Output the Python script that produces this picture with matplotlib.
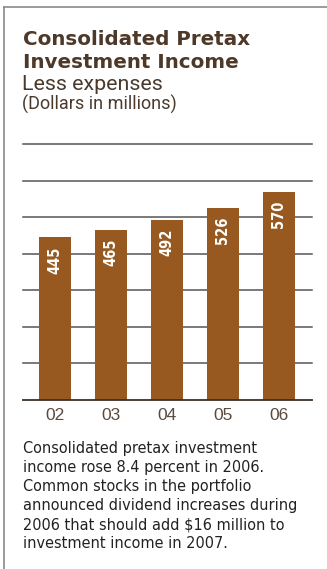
import os
import matplotlib
matplotlib.use('Agg')
import matplotlib.pyplot as plt
from matplotlib.lines import Line2D
from matplotlib import font_manager

# chart data
years = ['02', '03', '04', '05', '06']
income = [445, 465, 492, 526, 570]

title_lines = ['Consolidated Pretax', 'Investment Income']
subtitle = 'Less expenses'
units = '(Dollars in millions)'
note_lines = ['Consolidated pretax investment',
              'income rose 8.4 percent in 2006.',
              'Common stocks in the portfolio',
              'announced dividend increases during',
              '2006 that should add $16 million to',
              'investment income in 2007.']

W, H = 327, 569
bar_color = '#97591f'
brown_text = '#4e3928'


def find_narrow(bold):
    # look for an installed condensed sans face, fall back to DejaVu Sans
    prefs = ['LiberationSansNarrow', 'NotoSans-Condensed', 'DejaVuSansCondensed',
             'RobotoCondensed', 'Roboto_Condensed', 'OpenSans_Condensed',
             'Narrow', 'Condensed']
    skip = ['Italic', 'Oblique', 'Serif', 'Mono', 'Extra', 'Semi', 'Light',
            'Medium', 'Black', 'Thin', 'Ultra']
    files = [f.fname for f in font_manager.fontManager.ttflist]
    for p in prefs:
        for fn in files:
            base = os.path.basename(fn)
            if p not in base or any(s in base for s in skip):
                continue
            if bold == ('Bold' in base):
                return font_manager.FontProperties(fname=fn)
    return font_manager.FontProperties(family='DejaVu Sans',
                                       weight='bold' if bold else 'normal')


narrow = find_narrow(False)
narrow_bold = find_narrow(True)

fig = plt.figure(figsize=(W / 100, H / 100), dpi=100)
renderer = fig.canvas.get_renderer()


def fy(y):
    # pixel row from top -> figure fraction
    return 1 - y / H


def fx(x):
    return x / W


# frame: top and left rules
fig.add_artist(Line2D([fx(4), 1], [fy(7), fy(7)], color='#8a8a8a', lw=1.2))
fig.add_artist(Line2D([fx(4), fx(4)], [fy(7), 0], color='#8a8a8a', lw=1.2))

# headings
for line, base in zip(title_lines, [45, 68]):
    fig.text(fx(23), fy(base), line, fontsize=14.3, fontweight='heavy',
             color=brown_text, va='baseline')
sub = fig.text(fx(22), fy(90), subtitle, fontsize=15.8, color='#4a3a2e',
               va='baseline', family=['Roboto', 'DejaVu Sans'])
uni = fig.text(fx(22), fy(110), units, fontsize=13.3, color='#4a3a2e',
               va='baseline', family=['Roboto', 'DejaVu Sans'])
# match the reference widths of the two sub headings
for t, target in [(sub, 141), (uni, 155)]:
    w = t.get_window_extent(renderer).width
    t.set_fontsize(t.get_fontsize() * target / w)

# bar chart
ax = fig.add_axes([fx(23), fy(400), fx(312) - fx(23), fy(144) - fy(400)])
x = list(range(len(years)))
ax.bar(x, income, width=0.57, color=bar_color, zorder=2)
ax.set_xlim(-0.57, 4.59)
ax.set_ylim(0, 700)
for v in range(100, 701, 100):
    ax.axhline(v, color='#555555', lw=1.1, zorder=1, clip_on=False)
ax.axhline(0, color='#3a302a', lw=1.3, zorder=3, clip_on=False)

labels = []
for i, v in zip(x, income):
    t = ax.annotate(str(v), xy=(i, v), xytext=(0, -9), textcoords='offset pixels',
                    rotation=90, ha='center', va='top', color='white',
                    fontproperties=narrow_bold)
    t.set_fontsize(12)
    labels.append(t)

# size the value labels so a three digit label runs about 27 px along the bar
run = max(t.get_window_extent(renderer).height for t in labels)
for t in labels:
    t.set_fontsize(12 * 27.5 / run)

ax.set_xticks(x)
ax.set_xticklabels(years, fontsize=12.5, color='#5b4b40',
                   family=['Liberation Sans', 'DejaVu Sans'])
ax.tick_params(axis='x', length=0, pad=6)
ax.set_yticks([])
for s in ax.spines.values():
    s.set_visible(False)

# caption, one line per row so the tight leading can be kept
notes = []
for k, line in enumerate(note_lines):
    t = fig.text(fx(23), fy(453 + 19 * k), line, color='#222222', va='baseline',
                 fontproperties=narrow)
    t.set_fontsize(13.5)
    notes.append(t)

# fit the widest caption line to the column width (~272 px)
widest = max(t.get_window_extent(renderer).width for t in notes)
size = 13.5 * 272 / widest
for t in notes:
    t.set_fontsize(size)

fig.savefig('out.png', dpi=100)
